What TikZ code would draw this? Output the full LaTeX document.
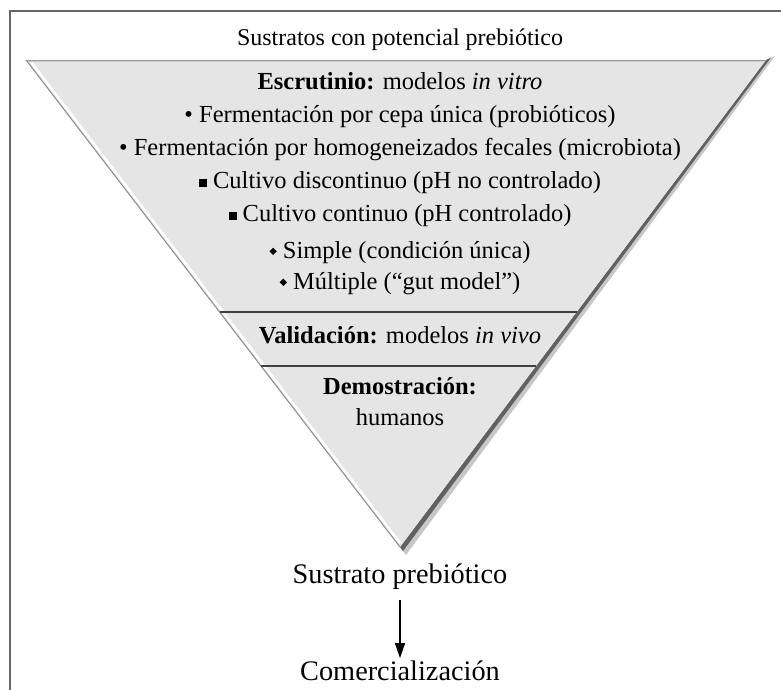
\documentclass[tikz,border=0pt]{standalone}
\usepackage{fontspec}
\setmainfont{Liberation Serif}
\usepackage{graphicx}
\usetikzlibrary{arrows.meta,calc}
\definecolor{trifill}{RGB}{229,229,229}
\newcommand\mysq{\raisebox{1pt}{\rule{8pt}{8pt}}}
\newcommand\mydm{\raisebox{3pt}{\rotatebox{45}{\rule{5.2pt}{5.2pt}}}}
\begin{document}
\begin{tikzpicture}[x=1pt,y=-1pt,
  lbl/.style={anchor=base,inner sep=0pt,font=\fontsize{24.5}{29}\selectfont},
  head/.style={anchor=base,inner sep=0pt,font=\fontsize{24}{29}\selectfont},
  big/.style={font=\fontsize{28.3}{32}\selectfont},
  divider/.style={line width=1.4pt,black!75},
  frameline/.style={line width=2pt,black!60},
  arr/.style={-{Triangle[length=15pt,width=10pt]},line width=1.1pt}]
\useasboundingbox (0,0) rectangle (781,690);
\clip (0,0) rectangle (781,690);
\fill[white] (0,0) rectangle (781,690);
% frame
\draw[frameline] (10,700) -- (10,11) -- (800,11);
% triangle
\coordinate (A) at (26,60);
\coordinate (B) at (766,60);
\coordinate (C) at (400,547);
\fill[black!22] (775,56) -- (406,555) -- (400,547) -- (766,60) -- cycle;
\fill[black!62] (771,57.5) -- (403,551) -- (400,547) -- (766,60) -- cycle;
\fill[trifill] (A) -- (B) -- (C) -- cycle;
\draw[black!40,line width=0.8pt] (A) -- (B);
\draw[black!45,line width=1pt] (A) -- (C);
\draw[white,line width=2.5pt] ($(A)+(5,2)$) -- ($(C)+(0,-4)$);
\draw[white!80!black,line width=1pt] ($(A)+(3,1.5)$) -- ($(B)+(-2,1.5)$);
% dividers
\draw[divider] ($(A)!0.5175!(C)$) -- ($(B)!0.5175!(C)$);
\draw[divider] ($(A)!0.6283!(C)$) -- ($(B)!0.6283!(C)$);
% texts
\node[head] (top) at (400,46) {Sustratos con potencial prebiótico};
\node[lbl] (esc) at (400,90) {\textbf{Escrutinio:} modelos \textit{in vitro}};
\node[lbl] (f1) at (400,122) {• Fermentación por cepa única (probióticos)};
\node[lbl] (f2) at (400,155) {• Fermentación por homogeneizados fecales (microbiota)};
\node[lbl] (c1) at (400,188) {\mysq\ Cultivo discontinuo (pH no controlado)};
\node[lbl] (c2) at (400,221) {\mysq\ Cultivo continuo (pH controlado)};
\node[lbl] (s1) at (400,258) {\mydm\ Simple (condición única)};
\node[lbl] (s2) at (400,289) {\mydm\ Múltiple (“gut model”)};
\node[lbl] (val) at (400,343) {\textbf{Validación:} modelos \textit{in vivo}};
\node[lbl] (dem) at (400,394) {\textbf{Demostración:}};
\node[lbl] (hum) at (400,425) {humanos};
\node[lbl,big] (sp) at (400,583) {Sustrato prebiótico};
\node[lbl,big] (com) at (400,680) {Comercialización};
\draw[arr,shorten <=11pt,shorten >=2pt] (sp.south) -- (com.north);
\end{tikzpicture}
\end{document}
